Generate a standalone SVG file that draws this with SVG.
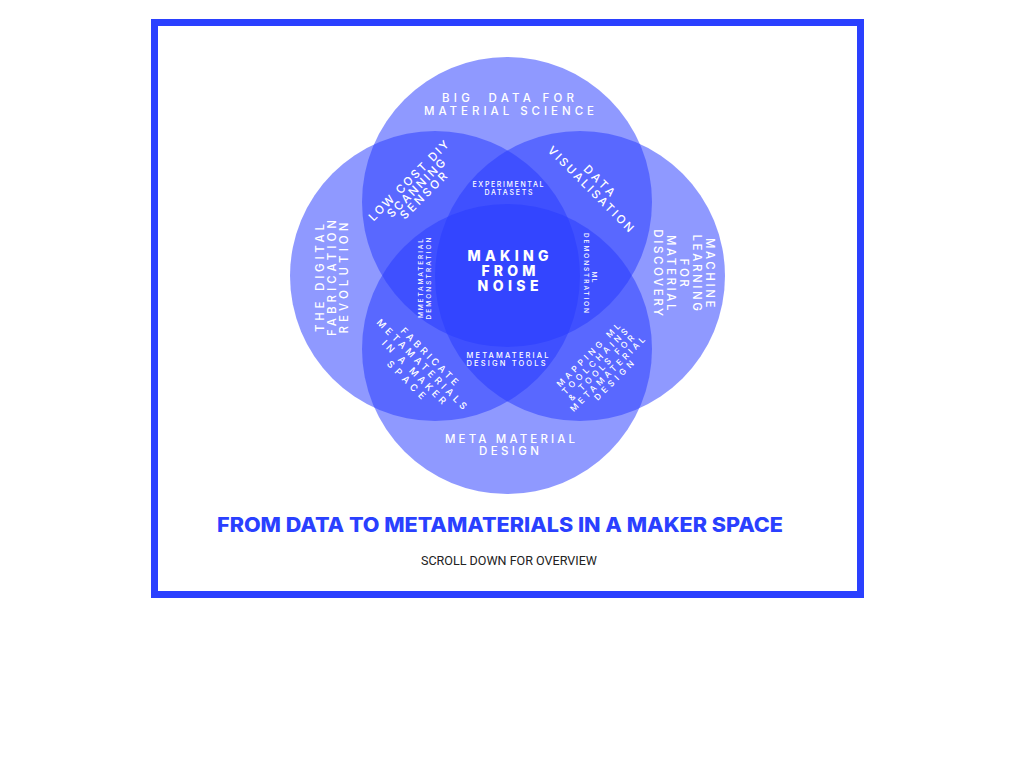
<svg xmlns="http://www.w3.org/2000/svg" width="1024" height="768" viewBox="0 0 1024 768">
<style>
  .c { fill: #283cff; fill-opacity: 0.52; }
  .lbl { font-family: "Inter", "DejaVu Sans", sans-serif; font-weight: 500; fill: #ffffff; text-anchor: middle; }
  .big { font-size: 11.5px; }
  .mid { font-size: 9.5px; }
  .mid2 { font-size: 8.5px; }
  .sm { font-size: 7px; }
  .ctr { font-family: "Inter", "DejaVu Sans", sans-serif; font-weight: 800; font-size: 14px; fill: #ffffff; text-anchor: middle; }
</style>
<rect x="0" y="0" width="1024" height="768" fill="#ffffff"/>
<rect id="frame" x="154.5" y="22.5" width="706" height="572" fill="none" stroke="#2a40ff" stroke-width="7"/>

<g id="circle-top"><circle class="c" cx="507" cy="202" r="145"/></g>
<g id="circle-left"><circle class="c" cx="435" cy="276" r="145"/></g>
<g id="circle-right"><circle class="c" cx="580" cy="276" r="145"/></g>
<g id="circle-bottom"><circle class="c" cx="507" cy="349" r="145"/></g>
<g id="connectors"></g>

<g id="label-top">
  <text class="lbl big" x="508" y="102" textLength="132" lengthAdjust="spacing" xml:space="preserve">BIG  DATA FOR</text>
  <text class="lbl big" x="509" y="115" textLength="170" lengthAdjust="spacing">MATERIAL SCIENCE</text>
</g>
<g id="label-bottom">
  <text class="lbl big" x="510" y="443" textLength="130" lengthAdjust="spacing">META MATERIAL</text>
  <text class="lbl big" x="509" y="455" textLength="60" lengthAdjust="spacing">DESIGN</text>
</g>
<g id="label-left" transform="translate(336,278) rotate(-90)">
  <text class="lbl big" x="0" y="-12" textLength="108" lengthAdjust="spacing">THE DIGITAL</text>
  <text class="lbl big" x="0" y="0" textLength="116" lengthAdjust="spacing">FABRICATION</text>
  <text class="lbl big" x="0" y="11.5" textLength="111" lengthAdjust="spacing">REVOLUTION</text>
</g>
<g id="label-right" transform="translate(680,274) rotate(90)">
  <text class="lbl big" x="0" y="-26" style="letter-spacing:2.6px">MACHINE</text>
  <text class="lbl big" x="0" y="-13" style="letter-spacing:2.6px">LEARNING</text>
  <text class="lbl big" x="0" y="0" style="letter-spacing:2.6px">FOR</text>
  <text class="lbl big" x="0" y="13" style="letter-spacing:2.6px">MATERIAL</text>
  <text class="lbl big" x="0" y="26" style="letter-spacing:2.6px">DISCOVERY</text>
</g>

<g id="label-scanning" transform="translate(419,191) rotate(-45)">
  <text class="lbl big" x="0" y="-10.5" textLength="108" lengthAdjust="spacing">LOW COST DIY</text>
  <text class="lbl big" x="0" y="0" textLength="77" lengthAdjust="spacing">SCANNING</text>
  <text class="lbl big" x="0" y="10.5" textLength="61" lengthAdjust="spacing">SENSOR</text>
</g>
<g id="label-visualisation" transform="translate(588,192) rotate(45)">
  <text class="lbl big" x="0" y="-12" textLength="39" lengthAdjust="spacing">DATA</text>
  <text class="lbl big" x="0" y="0" textLength="116" lengthAdjust="spacing">VISUALISATION</text>
</g>
<g id="label-fabricate" transform="translate(418,368) rotate(45)">
  <text class="lbl mid" x="0" y="-13" textLength="77" lengthAdjust="spacing">FABRICATE</text>
  <text class="lbl mid" x="0" y="-2" textLength="123" lengthAdjust="spacing">METAMATERIALS</text>
  <text class="lbl mid" x="0" y="9" textLength="86" lengthAdjust="spacing">IN A MAKER</text>
  <text class="lbl mid" x="0" y="20" textLength="50" lengthAdjust="spacing">SPACE</text>
</g>
<g id="label-mapping" transform="translate(601,367.6) rotate(-45)">
  <text class="lbl mid2" x="0" y="-14.7" textLength="86" lengthAdjust="spacing">MAPPING ML</text>
  <text class="lbl mid2" x="0" y="-5.7" textLength="89" lengthAdjust="spacing">TOOLCHAINS</text>
  <text class="lbl mid2" x="0" y="3.3" textLength="89" lengthAdjust="spacing">&amp; TOOLS FOR</text>
  <text class="lbl mid2" x="0" y="12.3" textLength="102" lengthAdjust="spacing">METAMATERIAL</text>
  <text class="lbl mid2" x="0" y="21.3" textLength="52" lengthAdjust="spacing">DESIGN</text>
</g>

<g id="label-experimental">
  <text class="lbl sm" x="508" y="187" textLength="71" lengthAdjust="spacing">EXPERIMENTAL</text>
  <text class="lbl sm" x="508.5" y="194.5" textLength="48" lengthAdjust="spacing">DATASETS</text>
</g>
<g id="label-design-tools">
  <text class="lbl sm" x="507.5" y="357.5" textLength="82" lengthAdjust="spacing" style="font-size:7.5px">METAMATERIAL</text>
  <text class="lbl sm" x="506" y="366" textLength="79" lengthAdjust="spacing" style="font-size:7.5px">DESIGN TOOLS</text>
</g>
<g id="label-mmetamaterial" transform="translate(423,278.5) rotate(-90)">
  <text class="lbl sm" x="0" y="0" textLength="79" lengthAdjust="spacing" style="font-size:6.5px">MMETAMATERIAL</text>
  <text class="lbl sm" x="0" y="8" textLength="82" lengthAdjust="spacing" style="font-size:6.5px">DEMONSTRATION</text>
</g>
<g id="label-ml" transform="translate(592,273) rotate(90)">
  <text class="lbl sm" x="4" y="0" textLength="11" lengthAdjust="spacing" style="font-size:6.5px">ML</text>
  <text class="lbl sm" x="0" y="7.7" textLength="80" lengthAdjust="spacing" style="font-size:6.5px">DEMONSTRATION</text>
</g>

<g id="center">
  <text class="ctr" x="508" y="261" textLength="81" lengthAdjust="spacing">MAKING</text>
  <text class="ctr" x="508.5" y="276" textLength="54" lengthAdjust="spacing">FROM</text>
  <text class="ctr" x="508" y="291" textLength="61" lengthAdjust="spacing">NOISE</text>
</g>

<g id="title">
  <text x="500" y="532" font-family="Inter, 'DejaVu Sans', sans-serif" font-weight="800" font-size="20" fill="#2a40ff" text-anchor="middle" textLength="566" lengthAdjust="spacingAndGlyphs">FROM DATA TO METAMATERIALS IN A MAKER SPACE</text>
  <text x="509" y="565" font-family="Roboto, 'Liberation Sans', sans-serif" font-size="13.5" fill="#222222" text-anchor="middle" textLength="176" lengthAdjust="spacingAndGlyphs">SCROLL DOWN FOR OVERVIEW</text>
</g>
</svg>
